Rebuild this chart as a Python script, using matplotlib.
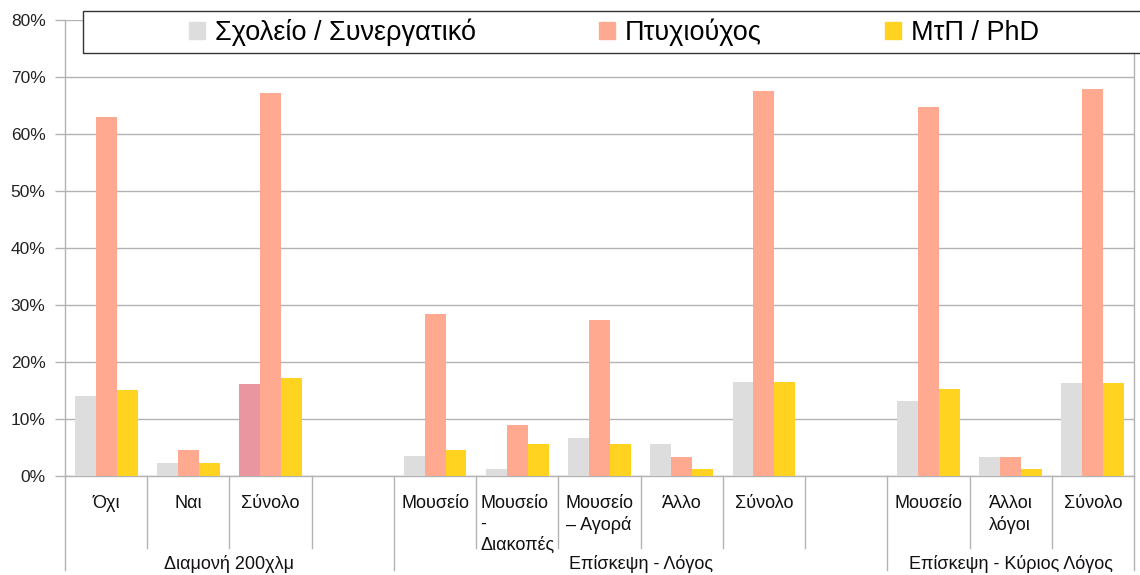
import matplotlib
matplotlib.use("Agg")
import matplotlib.pyplot as plt
from matplotlib.patches import Rectangle
from matplotlib.transforms import blended_transform_factory
import numpy as np

plt.rcParams['font.family'] = ['Liberation Sans', 'DejaVu Sans']

categories = ["Όχι", "Ναι", "Σύνολο", "",
              "Μουσείο", "Μουσείο\n-\nΔιακοπές", "Μουσείο\n– Αγορά", "Άλλο", "Σύνολο", "",
              "Μουσείο", "Άλλοι\nλόγοι", "Σύνολο"]
groups = ["Διαμονή 200χλμ", "Επίσκεψη - Λόγος", "Επίσκεψη - Κύριος Λόγος"]
group_sizes = [4, 6, 3]
series_names = ["Σχολείο / Συνεργατικό", "Πτυχιούχος", "ΜτΠ / PhD"]
school = [14.0, 2.3, 16.1, np.nan, 3.5, 1.3, 6.7, 5.6, 16.5, np.nan, 13.1, 3.4, 16.3]
degree = [62.9, 4.6, 67.2, np.nan, 28.4, 8.9, 27.4, 3.4, 67.6, np.nan, 64.7, 3.4, 67.9]
phd = [15.1, 2.3, 17.2, np.nan, 4.6, 5.6, 5.6, 1.3, 16.5, np.nan, 15.3, 1.3, 16.3]
yticks = [0, 10, 20, 30, 40, 50, 60, 70, 80]

colors = ["#DDDDDD", "#FFA990", "#FFD320"]
highlight_color = "#EA96A0"  # first bar of first "Σύνολο"

fig = plt.figure(figsize=(11.4, 5.75), dpi=100)
W, H = 1140, 575
ax = fig.add_axes([65 / W, 1 - 476 / H, (1134 - 65) / W, (476 - 20) / H])

x = np.arange(len(categories))
bw = 0.255
for i, (vals, c) in enumerate(zip([school, degree, phd], colors)):
    bars = ax.bar(x + (i - 1) * bw, vals, width=bw, color=c, zorder=3, linewidth=0)
    if i == 0:
        bars[2].set_facecolor(highlight_color)

ax.set_xlim(-0.5, len(categories) - 0.5)
ax.set_ylim(0, 80)
ax.set_yticks(yticks)
ax.set_yticklabels([f"{v}%" for v in yticks], fontsize=12.5, color="#222222")
ax.tick_params(axis='y', direction='out', length=7, width=1, color="#B3B3B3", pad=7)
ax.set_xticks([])
ax.grid(axis='y', color="#B3B3B3", linewidth=1, zorder=0)
ax.spines['top'].set_visible(False)
for s in ['left', 'right', 'bottom']:
    ax.spines[s].set_color("#B3B3B3")
    ax.spines[s].set_linewidth(1)

trans = blended_transform_factory(ax.transData, ax.transAxes)
ax_h = 456.0
def ypix(p):
    # pixel offset below the x axis -> axes coords
    return -p / ax_h

# category separators and labels
bounds = np.cumsum([0] + group_sizes) - 0.5
for b in np.arange(-0.5, len(categories)):
    is_group = np.any(np.isclose(bounds, b))
    y1 = ypix(94) if is_group else ypix(72)
    ax.plot([b, b], [0, y1], transform=trans, color="#B3B3B3", lw=1, clip_on=False)
for xi, lab in zip(x, categories):
    if lab:
        ax.text(xi, ypix(19), lab, transform=trans, ha='center', va='top',
                multialignment='left', fontsize=13, color="#111111", linespacing=1.3)
for gi, g in enumerate(groups):
    cx = (bounds[gi] + bounds[gi + 1]) / 2
    ax.text(cx, ypix(88), g, transform=trans, ha='center', va='center',
            fontsize=13, color="#111111")

# legend
fig.patches.append(Rectangle((83 / W, 1 - 53 / H), (1150 - 83) / W, 42 / H,
                             transform=fig.transFigure, facecolor='white',
                             edgecolor='#333333', lw=1, zorder=5))
handles = [Rectangle((0, 0), 1, 1, color=c) for c in colors]
leg = fig.legend(handles, series_names, loc='center', bbox_to_anchor=(614 / W, 1 - 32 / H),
                 ncol=3, frameon=False, fontsize=19.5, handlelength=0.6, handleheight=0.6,
                 handletextpad=0.35, columnspacing=4.55, borderpad=0)
leg.set_zorder(6)

fig.savefig("out.png", dpi=100)
